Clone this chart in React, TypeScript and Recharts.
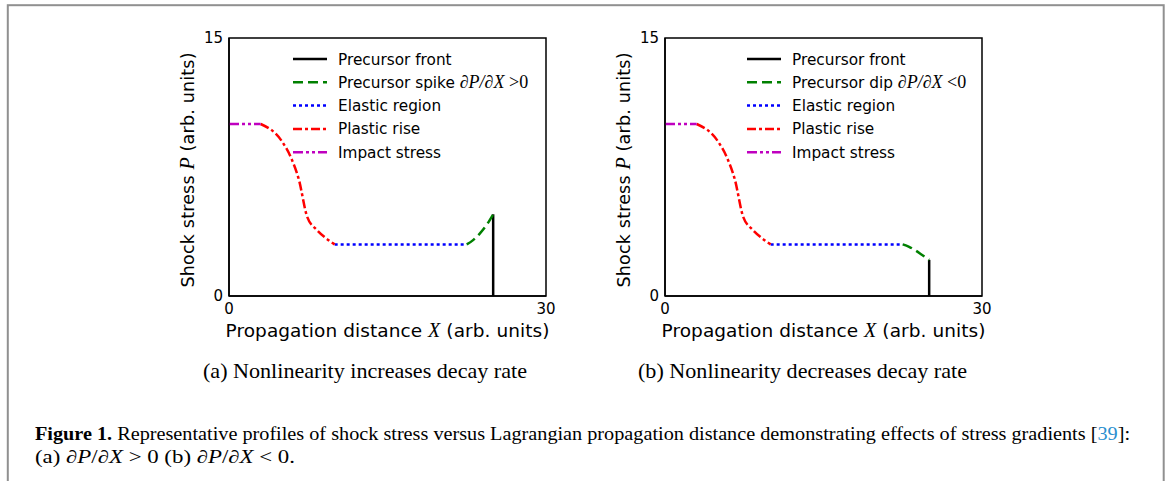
import { Label, Legend, Line, LineChart, ReferenceArea, XAxis, YAxis } from 'recharts';

type Pt = { x: number; y: number };

// shared shape of the wave behind the precursor
const impact: Pt[] = [
    { x: 0, y: 10 },
    { x: 3, y: 10 }
];
const plastic: Pt[] = [
    { x: 3, y: 10 },
    { x: 5, y: 9 },
    { x: 5.9, y: 8 },
    { x: 6.6, y: 6.8 },
    { x: 7.4, y: 4.6 },
    { x: 8.3, y: 3.85 },
    { x: 9.2, y: 3.35 },
    { x: 10, y: 3 }
];
const elastic: Pt[] = [
    { x: 10, y: 3 },
    { x: 22.5, y: 3 }
];

// (a) precursor spike
const spikeA: Pt[] = [
    { x: 22.5, y: 3 },
    { x: 23.1, y: 3.25 },
    { x: 23.75, y: 3.64 },
    { x: 24.4, y: 4.15 },
    { x: 25, y: 4.75 }
];
const frontA: Pt[] = [
    { x: 25, y: 0 },
    { x: 25, y: 4.75 }
];

// (b) precursor dip
const dipB: Pt[] = [
    { x: 22.5, y: 3 },
    { x: 23.1, y: 2.86 },
    { x: 23.65, y: 2.67 },
    { x: 24.3, y: 2.4 },
    { x: 25, y: 2.1 }
];
const frontB: Pt[] = [
    { x: 25, y: 0 },
    { x: 25, y: 2.1 }
];

const xTicks = [0, 30];
const yTicks = [0, 15];

const STYLE = {
    front   : { color: '#000000', dash: undefined },
    pre     : { color: '#008000', dash: '10 5' },
    elastic : { color: '#0000ff', dash: '3 3' },
    plastic : { color: '#ff0000', dash: '9 3 3 3' },
    impact  : { color: '#bf00bf', dash: '10 3 3 3 3 3' }
};

const MATH_FONT = '"Liberation Serif", serif';

type LegendItem = { key: keyof typeof STYLE; label: string; math?: string; rel?: string };

const legendA: LegendItem[] = [
    { key: 'front', label: 'Precursor front' },
    { key: 'pre', label: 'Precursor spike ', math: '∂P/∂X', rel: ' >0' },
    { key: 'elastic', label: 'Elastic region' },
    { key: 'plastic', label: 'Plastic rise' },
    { key: 'impact', label: 'Impact stress' }
];
const legendB: LegendItem[] = [
    { key: 'front', label: 'Precursor front' },
    { key: 'pre', label: 'Precursor dip ', math: '∂P/∂X', rel: ' <0' },
    { key: 'elastic', label: 'Elastic region' },
    { key: 'plastic', label: 'Plastic rise' },
    { key: 'impact', label: 'Impact stress' }
];

function LegendBox({ items }: { items: LegendItem[] }) {
    return (
        <svg width={250} height={125} style={{ display: 'block' }}>
            {items.map((it, i) => {
                const cy = 12 + i * 23.3;
                const s = STYLE[it.key];
                return (
                    <g key={it.key}>
                        <line
                            x1={0}
                            x2={34}
                            y1={cy}
                            y2={cy}
                            stroke={s.color}
                            strokeWidth={2.5}
                            strokeDasharray={s.dash}
                        />
                        <text
                            x={45}
                            y={cy + 5.5}
                            fontSize={15.3}
                            fontFamily="DejaVu Sans"
                            fill="#000"
                        >
                            {it.label}
                            {it.math && (
                                <tspan fontFamily={MATH_FONT} fontStyle="italic" fontSize={18}>
                                    {it.math}
                                </tspan>
                            )}
                            {it.rel && (
                                <tspan fontFamily={MATH_FONT} fontSize={18}>
                                    {it.rel}
                                </tspan>
                            )}
                        </text>
                    </g>
                );
            })}
        </svg>
    );
}

function XTitle(props: any) {
    const vb = props.viewBox || { x: 0, y: 0, width: 0 };
    return (
        <text
            x={vb.x + vb.width / 2}
            y={vb.y + 41}
            textAnchor="middle"
            fontSize={18.5}
            fontFamily="DejaVu Sans"
            fill="#000"
            textLength={324}
            lengthAdjust="spacing"
        >
            Propagation distance{' '}
            <tspan fontFamily={MATH_FONT} fontStyle="italic" fontSize={20}>X</tspan>
            {' '}(arb. units)
        </text>
    );
}

function YTitle(props: any) {
    const vb = props.viewBox || { x: 0, y: 0, height: 0 };
    const cx = vb.x + 44;
    const cy = vb.y + vb.height / 2 + 3;
    return (
        <text
            x={cx}
            y={cy}
            transform={`rotate(-90 ${cx} ${cy})`}
            textAnchor="middle"
            fontSize={17.5}
            fontFamily="DejaVu Sans"
            fill="#000"
            textLength={235}
            lengthAdjust="spacing"
        >
            Shock stress{' '}
            <tspan fontFamily={MATH_FONT} fontStyle="italic" fontSize={20}>P</tspan>
            {' '}(arb. units)
        </text>
    );
}

function Profile({ pre, front, legend, legendLeft }: {
    pre: Pt[];
    front: Pt[];
    legend: LegendItem[];
    legendLeft: number;
}) {
    const line = (data: Pt[], key: keyof typeof STYLE, curve: 'monotone' | 'linear') => (
        <Line
            key={key}
            data={data}
            dataKey="y"
            type={curve}
            stroke={STYLE[key].color}
            strokeWidth={2.5}
            strokeDasharray={STYLE[key].dash}
            dot={false}
            activeDot={false}
            isAnimationActive={false}
        />
    );
    return (
        <LineChart
            width={420}
            height={330}
            margin={{ top: 18, right: 24, bottom: 4, left: 0 }}
            style={{ fontFamily: 'DejaVu Sans' }}
        >
            <XAxis
                dataKey="x"
                type="number"
                domain={[0, 30]}
                ticks={xTicks}
                allowDuplicatedCategory={false}
                height={50}
                tickLine={false}
                tickMargin={1}
                axisLine={{ stroke: '#000', strokeWidth: 1.5 }}
                tick={{ fill: '#000', fontSize: 15 }}
            >
                <Label content={XTitle} />
            </XAxis>
            <YAxis
                type="number"
                domain={[0, 15]}
                ticks={yTicks}
                width={79}
                tickLine={false}
                tickMargin={0}
                axisLine={{ stroke: '#000', strokeWidth: 1.5 }}
                tick={{ fill: '#000', fontSize: 15 }}
            >
                <Label content={YTitle} />
            </YAxis>
            <ReferenceArea
                x1={0}
                x2={30}
                y1={0}
                y2={15}
                fill="none"
                fillOpacity={0}
                stroke="#000"
                strokeWidth={1.5}
            />
            {line(front, 'front', 'linear')}
            {line(pre, 'pre', 'monotone')}
            {line(elastic, 'elastic', 'linear')}
            {line(plastic, 'plastic', 'monotone')}
            {line(impact, 'impact', 'linear')}
            <Legend
                layout="vertical"
                align="center"
                verticalAlign="middle"
                content={() => <LegendBox items={legend} />}
                wrapperStyle={{ top: 27, left: legendLeft, width: 250, height: 125 }}
            />
        </LineChart>
    );
}

export default function App() {
    return (
        <div
            style={{
                position   : 'absolute',
                left       : 0,
                top        : 0,
                width      : 1170,
                height     : 481,
                overflow   : 'hidden',
                background : '#fff'
            }}
        >
            <div style={{ position: 'absolute', left: 150, top: 20 }}>
                <Profile pre={spikeA} front={frontA} legend={legendA} legendLeft={143} />
            </div>
            <div style={{ position: 'absolute', left: 586, top: 20 }}>
                <Profile pre={dipB} front={frontB} legend={legendB} legendLeft={161} />
            </div>
            <svg
                width={1170}
                height={481}
                style={{ position: 'absolute', left: 0, top: 0, pointerEvents: 'none' }}
            >
                <rect x={7.8} y={5.2} width={1155.9} height={520} fill="none" stroke="#909090" strokeWidth={2} />
                <g fontFamily='"Liberation Serif", serif' fill="#000">
                    <text x={203} y={378} fontSize={21} textLength={324} lengthAdjust="spacingAndGlyphs">
                        (a) Nonlinearity increases decay rate
                    </text>
                    <text x={638} y={378} fontSize={21} textLength={329} lengthAdjust="spacingAndGlyphs">
                        (b) Nonlinearity decreases decay rate
                    </text>
                    <text x={35} y={440} fontSize={18} textLength={1095} lengthAdjust="spacingAndGlyphs">
                        <tspan fontWeight="bold">Figure 1.</tspan> Representative profiles of shock stress versus
                        Lagrangian propagation distance demonstrating effects of stress gradients [
                        <tspan fill="#2b8fcf">39</tspan>]:
                    </text>
                    <text x={35} y={463} fontSize={18} textLength={260} lengthAdjust="spacingAndGlyphs">
                        (a) <tspan fontStyle="italic">∂P</tspan>/<tspan fontStyle="italic">∂X</tspan> &gt; 0 (b){' '}
                        <tspan fontStyle="italic">∂P</tspan>/<tspan fontStyle="italic">∂X</tspan> &lt; 0.
                    </text>
                </g>
            </svg>
        </div>
    );
}
